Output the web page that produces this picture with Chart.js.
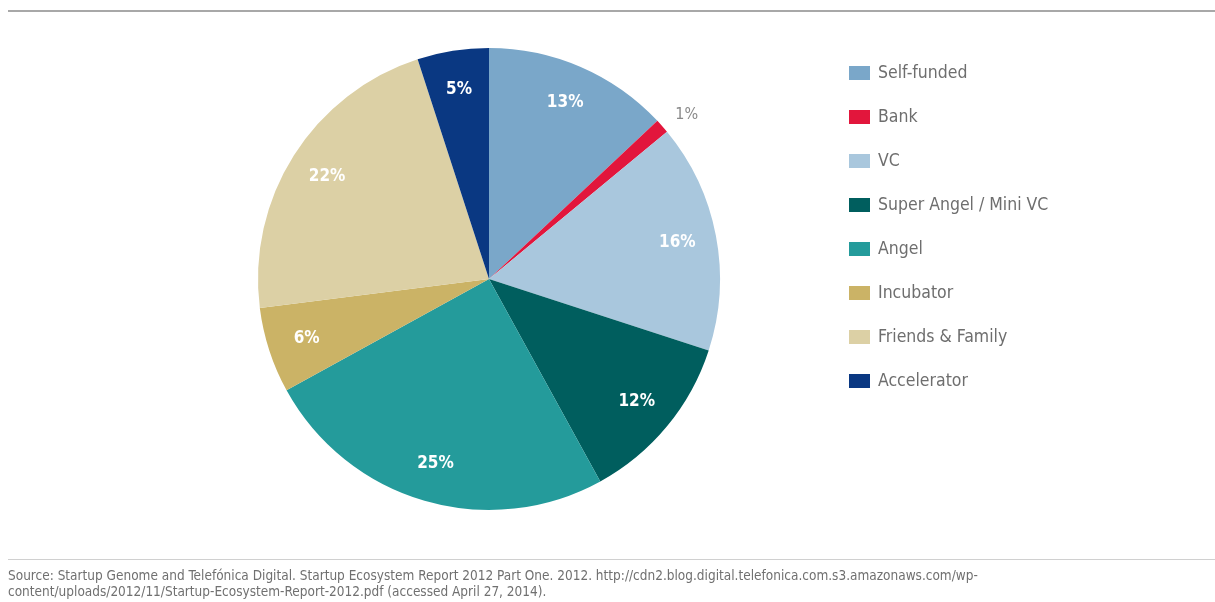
<!DOCTYPE html>
<html>
<head>
<meta charset="utf-8">
<script src="https://cdn.jsdelivr.net/npm/chart.js@4.4.1/dist/chart.umd.min.js"></script>
<style>
  html, body { margin: 0; padding: 0; background: #ffffff; }
  #wrap { position: relative; width: 1215px; height: 602px; }
</style>
</head>
<body>
<div id="wrap"><canvas id="pie" width="1215" height="602"></canvas></div>
<script>
// Funding sources of startups (share of respondents, %)
const categories = ['Self-funded', 'Bank', 'VC', 'Super Angel / Mini VC', 'Angel', 'Incubator', 'Friends & Family', 'Accelerator'];
const shares = [13, 1, 16, 12, 25, 6, 22, 5];
const sliceColors = ['#7aa7c9', '#e2163c', '#a9c7dd', '#005e5e', '#249b9b', '#cbb366', '#dcd0a5', '#0a3882'];
const sourceLines = [
  'Source: Startup Genome and Telefónica Digital. Startup Ecosystem Report 2012 Part One. 2012. http://cdn2.blog.digital.telefonica.com.s3.amazonaws.com/wp-',
  'content/uploads/2012/11/Startup-Ecosystem-Report-2012.pdf (accessed April 27, 2014).'
];

const NARROW = '"Liberation Sans Narrow", "DejaVu Sans Condensed", "Liberation Sans", sans-serif';

// Rules, legend, slice labels and source note
const decorations = {
  id: 'decorations',
  afterDraw(chart) {
    const ctx = chart.ctx;
    ctx.save();

    // heading rule
    ctx.fillStyle = '#a8a8a8';
    ctx.fillRect(8, 10, 1207, 2);

    // source rule
    ctx.fillStyle = '#d0d0d0';
    ctx.fillRect(8, 559, 1207, 1);

    // legend
    ctx.textBaseline = 'middle';
    ctx.textAlign = 'left';
    ctx.font = '17.5px ' + NARROW;
    chart.data.labels.forEach((lab, i) => {
      const y = 73 + i * 44;
      ctx.fillStyle = chart.data.datasets[0].backgroundColor[i];
      ctx.fillRect(849, y - 7, 21, 14);
      ctx.fillStyle = '#6e6e6e';
      ctx.fillText(lab, 878, y);
    });

    // slice labels: inside for normal slices, just outside the rim for tiny ones
    const meta = chart.getDatasetMeta(0);
    const vals = chart.data.datasets[0].data;
    meta.data.forEach((arc, i) => {
      const p = arc.getProps(['x', 'y', 'startAngle', 'endAngle', 'outerRadius'], true);
      const mid = (p.startAngle + p.endAngle) / 2;
      const small = vals[i] < 3;
      const d = small ? p.outerRadius * 1.075 : p.outerRadius * 0.83;
      const x = p.x + Math.cos(mid) * d;
      const y = p.y + Math.sin(mid) * d;
      ctx.textAlign = small ? 'left' : 'center';
      ctx.textBaseline = 'middle';
      if (small) {
        ctx.font = '16px ' + NARROW;
        ctx.fillStyle = '#8a8a8a';
      } else {
        ctx.font = 'bold 17px ' + NARROW;
        ctx.fillStyle = '#ffffff';
      }
      ctx.fillText(vals[i] + '%', x, y);
    });

    // source note
    ctx.textAlign = 'left';
    ctx.textBaseline = 'middle';
    ctx.font = '13.5px ' + NARROW;
    ctx.fillStyle = '#707070';
    sourceLines.forEach((t, i) => ctx.fillText(t, 8, 576 + i * 16));

    ctx.restore();
  }
};

new Chart(document.getElementById('pie'), {
  type: 'pie',
  data: {
    labels: categories,
    datasets: [{
      data: shares,
      backgroundColor: sliceColors,
      borderWidth: 0
    }]
  },
  options: {
    responsive: false,
    animation: false,
    layout: { padding: { left: 258, right: 495, top: 48, bottom: 92 } },
    plugins: {
      legend: { display: false },
      tooltip: { enabled: false }
    }
  },
  plugins: [decorations]
});
</script>
</body>
</html>
